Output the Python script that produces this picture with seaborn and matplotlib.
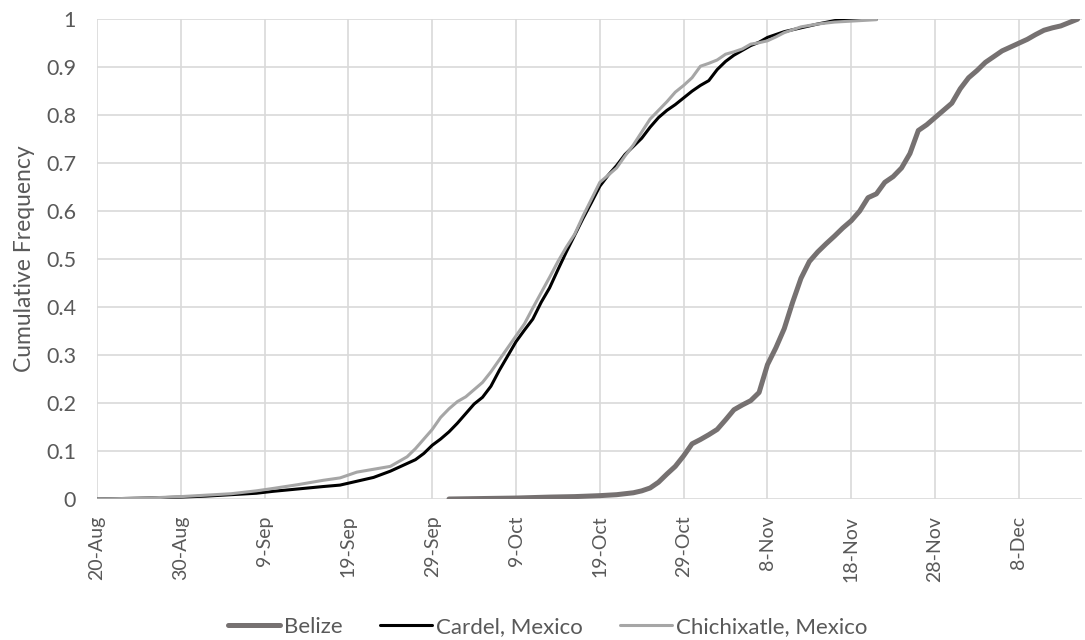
# Cumulative frequency of dates per site - recreated with seaborn

import pandas as pd
import matplotlib
matplotlib.use("Agg")
import matplotlib.pyplot as plt
import seaborn as sns

# ============================================
# DATA
# ============================================

start_date = "2017-08-20"

cardel_days = [0, 3, 6, 10, 13, 16, 19, 21, 24, 27, 29, 31, 33, 35, 36, 38, 39,
               40, 41, 42, 43, 44, 45, 46, 47, 48, 49, 50, 51, 52, 53, 54, 55,
               56, 57, 58, 59, 60, 61, 62, 63, 64, 65, 66, 67, 68, 69, 70, 71,
               72, 73, 74, 75, 76, 77, 78, 79, 80, 81, 82, 83, 84, 86, 88, 90, 93]
cardel_values = [0, 0.001, 0.002, 0.004, 0.006, 0.009, 0.012, 0.016, 0.021, 0.026,
                 0.029, 0.037, 0.045, 0.058, 0.066, 0.082, 0.095, 0.112, 0.125,
                 0.14, 0.158, 0.178, 0.198, 0.212, 0.235, 0.268, 0.298, 0.328,
                 0.352, 0.375, 0.41, 0.44, 0.478, 0.515, 0.55, 0.585, 0.618,
                 0.652, 0.675, 0.695, 0.718, 0.735, 0.752, 0.775, 0.795, 0.81,
                 0.822, 0.836, 0.85, 0.862, 0.872, 0.895, 0.912, 0.925, 0.935,
                 0.945, 0.952, 0.962, 0.968, 0.974, 0.978, 0.982, 0.99, 0.997,
                 1.0, 1.0]

chichi_days = [0, 3, 6, 10, 13, 16, 19, 21, 24, 27, 29, 31, 33, 35, 36, 37, 38,
               39, 40, 41, 42, 43, 44, 45, 46, 47, 48, 49, 50, 51, 52, 53, 54,
               55, 56, 57, 58, 59, 60, 61, 62, 63, 64, 65, 66, 67, 68, 69, 70,
               71, 72, 73, 74, 75, 76, 77, 78, 79, 80, 81, 82, 83, 84, 86, 88,
               90, 93]
chichi_values = [0, 0.001, 0.002, 0.005, 0.008, 0.011, 0.017, 0.022, 0.03, 0.039,
                 0.044, 0.056, 0.062, 0.068, 0.078, 0.088, 0.105, 0.125, 0.145,
                 0.17, 0.188, 0.203, 0.213, 0.228, 0.243, 0.265, 0.29, 0.315,
                 0.34, 0.365, 0.398, 0.43, 0.462, 0.495, 0.525, 0.552, 0.59,
                 0.625, 0.66, 0.675, 0.69, 0.715, 0.738, 0.765, 0.792, 0.81,
                 0.828, 0.848, 0.862, 0.878, 0.902, 0.908, 0.915, 0.927, 0.932,
                 0.938, 0.948, 0.951, 0.955, 0.963, 0.972, 0.978, 0.984, 0.99,
                 0.994, 0.996, 0.999]

belize_days = [42, 46, 50, 54, 57, 60, 62, 64, 65, 66, 67, 68, 69, 70, 71, 72,
               73, 74, 75, 76, 77, 78, 79, 80, 81, 82, 83, 84, 85, 86, 87, 88,
               89, 90, 91, 92, 93, 94, 95, 96, 97, 98, 99, 100, 101, 102, 103,
               104, 105, 106, 107, 108, 109, 110, 111, 112, 113, 114, 115, 116,
               117]
belize_values = [0, 0.001, 0.002, 0.004, 0.005, 0.007, 0.009, 0.013, 0.017,
                 0.023, 0.035, 0.052, 0.068, 0.09, 0.115, 0.124, 0.134, 0.145,
                 0.165, 0.186, 0.196, 0.205, 0.222, 0.28, 0.315, 0.355, 0.41,
                 0.46, 0.495, 0.515, 0.532, 0.548, 0.565, 0.58, 0.6, 0.628,
                 0.636, 0.66, 0.672, 0.69, 0.72, 0.768, 0.78, 0.795, 0.81,
                 0.825, 0.855, 0.878, 0.893, 0.91, 0.922, 0.934, 0.942, 0.95,
                 0.958, 0.968, 0.977, 0.982, 0.986, 0.993, 1.0]

tick_labels = ["20-Aug", "30-Aug", "9-Sep", "19-Sep", "29-Sep", "9-Oct",
               "19-Oct", "29-Oct", "8-Nov", "18-Nov", "28-Nov", "8-Dec"]
y_ticks = [0, 0.1, 0.2, 0.3, 0.4, 0.5, 0.6, 0.7, 0.8, 0.9, 1]
y_tick_labels = ["0", "0.1", "0.2", "0.3", "0.4", "0.5", "0.6", "0.7",
                 "0.8", "0.9", "1"]

# ============================================
# BUILD DATAFRAMES
# ============================================

base = pd.Timestamp(start_date)

def make_df(days, values):
    return pd.DataFrame({
        "Date": [base + pd.Timedelta(days=d) for d in days],
        "Value": values
    })

belize = make_df(belize_days, belize_values)
cardel = make_df(cardel_days, cardel_values)
chichi = make_df(chichi_days, chichi_values)

# ============================================
# PLOT
# ============================================

sns.set_style("white")
plt.rcParams["font.family"] = ["Lato", "DejaVu Sans"]

fig = plt.figure(figsize=(10.85, 6.4), dpi=100)
ax = fig.add_axes([0.0894, 0.2203, 0.9076, 0.7497])

sns.lineplot(data=belize, x="Date", y="Value", ax=ax, color="#767171",
             linewidth=3.6, label="Belize")
sns.lineplot(data=cardel, x="Date", y="Value", ax=ax, color="#000000",
             linewidth=2.2, label="Cardel, Mexico")
sns.lineplot(data=chichi, x="Date", y="Value", ax=ax, color="#A6A6A6",
             linewidth=2.2, label="Chichixatle, Mexico")

# x axis: ticks every 10 days
tick_dates = [base + pd.Timedelta(days=10 * i) for i in range(len(tick_labels))]
ax.set_xticks(tick_dates)
ax.set_xticklabels(tick_labels, rotation=90)
ax.set_xlim(base, base + pd.Timedelta(days=117.5))

ax.set_yticks(y_ticks)
ax.set_yticklabels(y_tick_labels)
ax.set_ylim(0, 1)

ax.grid(True, color="#D9D9D9", linewidth=1.2)
ax.set_axisbelow(True)
for s in ax.spines.values():
    s.set_visible(False)

ax.tick_params(axis="x", length=5, color="#D9D9D9", labelsize=14,
               labelcolor="#595959", pad=7)
ax.tick_params(axis="y", length=0, labelsize=15.5, labelcolor="#595959", pad=15)

ax.set_xlabel("")
ax.set_ylabel("Cumulative Frequency", fontsize=16.5, color="#595959",
              labelpad=8)

ax.get_legend().remove()
handles, labels = ax.get_legend_handles_labels()
leg = fig.legend(handles, labels, loc="lower center",
                 bbox_to_anchor=(0.505, -0.026), ncol=3, frameon=False,
                 fontsize=16, handlelength=2.3, columnspacing=1.7,
                 handletextpad=0.2)
for t in leg.get_texts():
    t.set_color("#595959")

plt.savefig("out.png", dpi=100)
plt.close()
